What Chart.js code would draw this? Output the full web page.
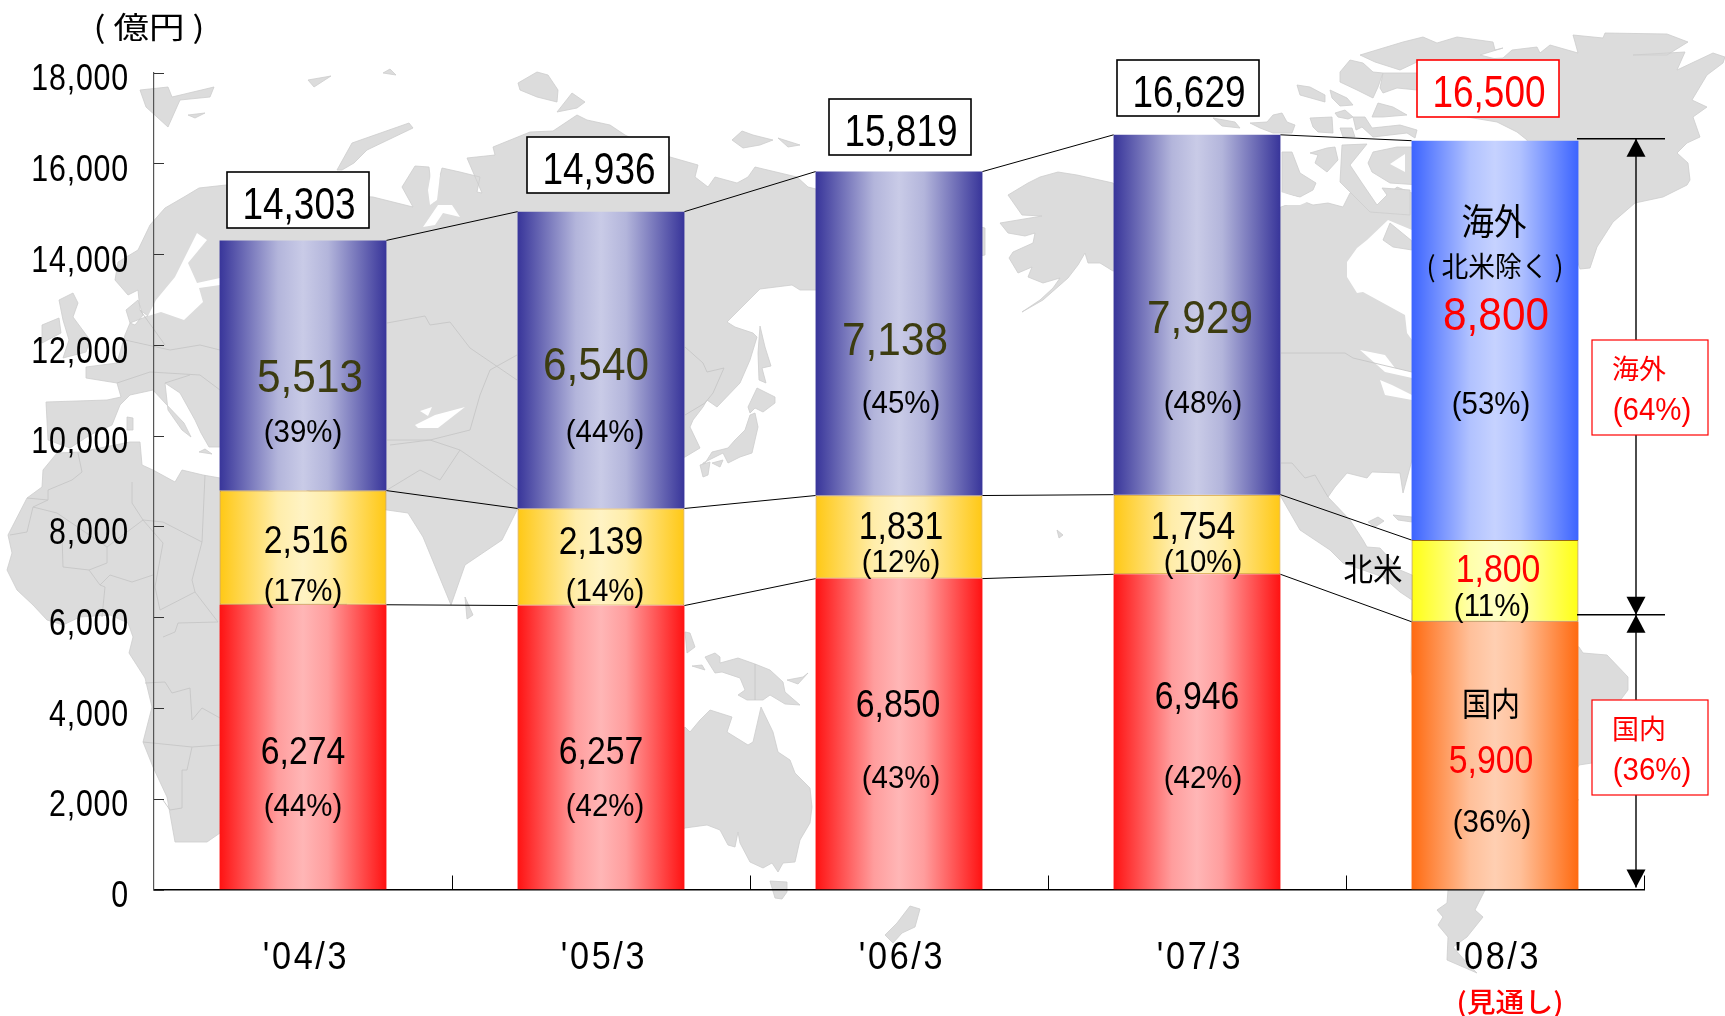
<!DOCTYPE html>
<html lang="ja">
<head>
<meta charset="utf-8">
<style>html,body{margin:0;padding:0;background:#fff}canvas{display:block}</style>
<script src="https://cdn.jsdelivr.net/npm/chart.js@4"></script>
</head>
<body>
<canvas id="c" width="1725" height="1016"></canvas>
<script>
// ---------- data ----------
const categories = ["'04/3", "'05/3", "'06/3", "'07/3", "'08/3"];
const domestic = [6274, 6257, 6850, 6946, 5900];
const northAmerica = [2516, 2139, 1831, 1754, 1800];
const overseas = [5513, 6540, 7138, 7929, 8800];
const totals = [14303, 14936, 15819, 16629, 16500];
const domesticPct = [44, 42, 43, 42, 36];
const northAmericaPct = [17, 14, 12, 10, 11];
const overseasPct = [39, 44, 45, 48, 53];
const yMax = 18000, yStep = 2000;

// ---------- style ----------
const NARROW = '"Liberation Sans",Arial,sans-serif';
const CJK = '"Noto Sans CJK JP","Liberation Sans",sans-serif';
const grads = {
  overseas: ['#38359A', '#C9CBE7'], overseas5: ['#3C64FF', '#C6D2FF'],
  na: ['#FFC814', '#FFF3C4'], na5: ['#FFFF14', '#FFFFC4'],
  dom: ['#FF1212', '#FFB6B6'], dom5: ['#FF6A10', '#FFCFB2']
};
const BAR_FRAC = 0.56;

function hex(c){return [1,3,5].map(i=>parseInt(c.substr(i,2),16));}
function mix(a,b,t){const A=hex(a),B=hex(b);return 'rgb('+A.map((v,i)=>Math.round(v+(B[i]-v)*t)).join(',')+')';}
function barFill(normal, last){
  return function(ctx){
    const pair = grads[ctx.dataIndex===4?last:normal];
    const chart = ctx.chart;
    if(!chart.chartArea || !chart.scales.x) return pair[0];
    const xs = chart.scales.x, cx = xs.getPixelForValue(ctx.dataIndex);
    const w = chart.chartArea.width/categories.length*BAR_FRAC;
    const g = chart.ctx.createLinearGradient(cx-w/2,0,cx+w/2,0);
    g.addColorStop(0,pair[0]);
    g.addColorStop(0.35,mix(pair[0],pair[1],0.85));
    g.addColorStop(0.5,pair[1]);
    g.addColorStop(0.65,mix(pair[0],pair[1],0.85));
    g.addColorStop(1,pair[0]);
    return g;
  };
}

// ---------- background world map (decoration only, page pixels) ----------
const MAP_LAND = [
 // Eurasia
 [226,185,260,190,373,197,413,207,402,187,415,166,429,167,433,203,442,168,460,172,480,177,477,192,482,193,467,158,495,155,493,147,530,132,553,131,577,115,587,120,610,125,625,135,670,157,698,165,695,177,708,187,715,177,737,183,748,177,755,167,797,177,808,187,860,200,985,228,985,255,900,270,817,290,800,290,792,285,760,289,727,322,735,327,753,333,757,337,750,360,740,383,717,407,707,400,703,407,693,420,690,427,700,448,685,457,600,480,518,508,502,540,465,565,451,605,423,537,408,513,387,510,330,500,260,470,220,447,209,447,201,433,195,420,180,393,165,383,168,410,182,430,191,437,184,423,165,403,153,390,130,395,120,405,112,425,90,435,70,448,48,440,46,402,107,400,121,397,117,383,86,378,86,367,117,363,125,335,130,323,135,325,143,315,138,300,126,310,130,323,148,316,140,310,138,290,128,295,115,280,118,262,138,250,150,225,165,208,184,197,199,188],
 // Africa
 [43,470,57,453,80,452,130,442,140,442,142,465,153,470,175,482,182,470,203,475,220,478,380,520,300,720,240,830,220,833,207,842,175,842,167,797,153,767,143,742,152,707,145,678,129,653,133,637,128,623,110,615,80,617,63,625,47,620,33,605,17,590,7,570,12,553,8,535,27,498,42,487],
 // Britain, Ireland
 [59,300,73,293,78,303,73,317,90,340,86,352,63,358,69,340,63,320],[42,325,59,318,61,333,42,343],
 // Arctic Europe / Asia islands
 [140,90,168,87,172,97,214,87,210,97,180,100,168,127,146,107],[188,115,205,113,195,118],[308,80,331,76,314,87],[383,73,390,69,396,75],
 [337,170,352,143,409,123,413,128,367,150,354,163,342,170],[518,83,537,72,548,75,558,90,557,102,537,97,520,90],[557,112,572,93,585,102,577,108],
 [732,140,742,131,753,135,773,140,760,145,743,148],[778,138,800,145,788,147],
 // Sri Lanka, Mediterranean islands
 [465,597,473,615,467,619],[127,417,133,418,133,430,127,430],[199,452,212,454,205,449],
 // Japan, Sakhalin
 [760,326,765,347,771,366,762,368,766,383,759,380,758,353],[757,388,767,393,775,397,775,403,763,412,755,408,750,413,748,407],
 [755,413,758,427,752,453,740,457,728,463,723,453,703,463,702,468,712,452,728,448,735,440,745,430,750,415],[700,465,710,462,708,475,703,477],[712,463,723,460,720,467],
 // Alaska + Canada + USA + Mexico
 [1113,183,1077,175,1058,172,1040,177,1028,183,1008,195,1022,215,1042,216,1000,223,1008,233,1025,236,1035,233,1033,243,1013,252,1009,258,1018,273,1032,267,1028,277,1043,283,1060,278,1053,288,1040,300,1022,312,1043,300,1068,278,1078,265,1085,253,1088,263,1100,263,1113,271,1200,250,1281,207,1300,200,1313,205,1328,203,1343,207,1350,193,1358,187,1368,193,1377,207,1388,195,1397,187,1412,193,1500,300,1440,420,1412,460,1403,493,1400,473,1372,472,1367,478,1347,473,1335,487,1328,497,1350,520,1363,540,1367,547,1380,548,1400,570,1412,575,1440,610,1412,600,1400,592,1383,577,1343,563,1330,550,1300,530,1281,497,1230,450,1200,300],
 [1222,172,1233,178,1222,188],
 // Arctic Canada
 [1342,145,1367,144,1350,165,1362,183,1377,205,1387,195,1382,188,1410,190,1410,215,1370,212,1340,182],
 [1360,55,1403,42,1423,37,1437,43,1457,37,1493,42,1495,50,1503,48,1480,55,1500,60,1417,62,1400,70,1375,62],
 [1340,72,1350,60,1363,63,1373,72,1383,73,1378,87,1373,98,1357,90,1340,82],[1383,73,1417,73,1417,90,1397,88,1383,93,1380,88],
 [1297,85,1310,87,1325,95,1325,102,1300,95],[1330,90,1347,98,1353,105,1340,106,1332,98],[1335,113,1345,110,1353,117,1348,119,1338,117],
 [1310,118,1332,117,1333,133,1318,132,1313,127],[1353,117,1365,117,1372,128,1400,125,1417,130,1415,138,1407,133,1373,137,1362,127,1356,130],
 [1378,103,1393,107,1407,115,1383,117,1372,117],[1340,128,1352,128,1355,137,1343,137],
 [1250,123,1267,122,1273,115,1282,113,1287,122,1295,125,1292,133,1273,133,1260,128],[1213,118,1235,122,1240,128,1222,126],
 [1282,152,1292,152,1300,173,1316,183,1313,190,1300,197,1282,193],[1310,153,1327,148,1335,147,1338,160,1327,172,1315,163,1318,155],
 [1368,163,1373,152,1397,147,1412,147,1420,185,1390,183,1372,172],
 // Greenland
 [1503,58,1512,50,1537,47,1540,53,1550,45,1578,53,1575,42,1573,35,1603,38,1605,33,1667,34,1688,42,1667,55,1633,55,1685,52,1677,70,1713,53,1725,57,1723,63,1707,75,1692,100,1707,107,1693,117,1700,137,1687,143,1677,153,1688,163,1690,180,1687,185,1663,197,1635,203,1613,222,1597,247,1590,268,1580,269,1570,240,1527,140,1517,132,1497,122,1467,117,1450,80,1470,60],
 // South America
 [1412,600,1411,655,1411,672,1420,700,1448,890,1447,903,1437,910,1443,917,1438,925,1448,937,1447,960,1477,973,1467,963,1453,947,1467,937,1483,917,1475,910,1485,890,1560,800,1579,765,1592,763,1613,710,1628,690,1628,677,1607,655,1583,653,1579,647,1500,620],
 [1368,522,1378,517,1384,521,1375,527],[1393,515,1412,517,1412,522,1398,520],
 // Oceania
 [660,760,685,727,690,732,700,720,710,710,732,717,727,732,748,745,753,742,761,707,773,732,778,752,790,760,795,773,800,778,810,788,812,807,810,823,800,840,795,862,783,863,778,872,772,863,763,868,750,862,740,843,738,832,735,847,728,845,720,830,707,825,685,828,660,840],
 [770,881,787,882,787,892,782,899,775,898],[910,906,920,909,915,927,902,933,893,943,885,935,897,923],
 [705,657,715,653,720,657,720,663,738,658,755,664,770,670,783,682,785,692,800,705,785,704,770,695,763,700,747,700,738,695,745,690,740,678,722,672,715,673,710,665],
 [685,632,690,633,695,647,687,653],[692,666,702,665,705,670],[787,680,803,677,808,673,798,684],
 [1057,530,1063,535,1059,538]
];
const MAP_WATER = [
 [197,233,207,240,188,263,197,283,220,278,220,285,199,288,203,302,184,320,161,312,148,316,156,300,175,277],
 [423,227,438,205,452,205,460,217,443,213,435,225],[432,168,440,175,437,200,430,205,428,190],
 [415,425,435,415,465,407,438,428,418,428],[420,411,432,407,428,416],
 [1347,262,1357,248,1367,240,1388,220,1412,230,1412,340,1407,333,1405,315,1363,292,1357,293,1347,277],
 [1360,350,1385,355,1395,368,1412,372,1412,378,1385,372],[1380,380,1385,395,1412,400,1412,395,1392,385],
 [1390,164,1405,154,1405,172],[1281,192,1300,198,1312,200,1300,205,1281,205],
 [1520,180,1545,180,1530,210]
];
const MAP_ISLES_OVER_WATER = [[1383,240,1390,223,1412,241,1412,250,1393,247]];
const MAP_BORDERS = [
 [48,490,72,480,82,472,78,453],[48,490,48,500,27,498],[10,535,27,532,33,507,48,500],[132,482,132,503,143,520,163,522,202,542,205,475],
 [143,520,107,547,57,513,33,507],[107,547,107,563,89,570,63,567,62,535],[89,570,100,585,110,575,132,582,153,575],[100,585,105,587,102,617],
 [160,610,195,592,192,580,202,542],[160,610,155,587,163,543,143,520],[163,637,175,632,178,623,218,622,195,592],
 [145,683,165,682,172,693,190,688,192,720,202,708,220,718],[143,742,192,747,220,745],[192,747,187,770,182,770,182,808,170,810,163,800],
 [1281,353,1345,353,1353,358,1412,372],[387,323,425,316,430,325,450,322,470,348,517,380],[517,355,490,370,480,395,470,430,430,440,390,445],
 [685,347,703,363,707,372,724,368,713,393,705,403,685,415],[387,490,420,470,440,480,460,450,518,490],[387,440,430,440,460,450],
 [125,340,170,350,200,345,220,350],[117,383,150,372,200,375,220,390],[165,383,190,375],[140,310,165,345],
 [1281,463,1292,463,1305,478,1315,475,1328,497],[755,664,755,700],
 [1480,700,1579,720],[1450,760,1579,800]
];
function polyPath(ctx,pts){ctx.beginPath();ctx.moveTo(pts[0],pts[1]);for(let i=2;i<pts.length;i+=2)ctx.lineTo(pts[i],pts[i+1]);}
const mapPlugin = {id:'worldMap',beforeDraw(chart){
  const c=chart.ctx;c.save();c.fillStyle='#fff';c.fillRect(0,0,chart.width,chart.height);
  const land=(list)=>{c.fillStyle='#DCDCDC';c.strokeStyle='#CDCDCD';c.lineWidth=0.8;c.lineJoin='round';
    list.forEach(p=>{polyPath(c,p);c.closePath();c.fill();c.stroke();});};
  land(MAP_LAND);
  c.fillStyle='#fff';MAP_WATER.forEach(p=>{polyPath(c,p);c.closePath();c.fill();});
  land(MAP_ISLES_OVER_WATER);
  c.strokeStyle='#C6C6C6';c.lineWidth=0.9;MAP_BORDERS.forEach(p=>{polyPath(c,p);c.stroke();});
  c.restore();
}};

// ---------- helpers ----------
function cjk(c,s,x,y,font,color,w){
  c.save();c.font=font;c.fillStyle=color;c.textAlign='center';c.textBaseline='middle';c.translate(x,y);
  c.scale(w/c.measureText(s).width,1);c.fillText(s,0,0);c.restore();
}
function latin(c,s,x,y,size,color,sx,align){
  c.save();c.font=size+'px '+NARROW;c.fillStyle=color;c.textAlign=align||'center';c.textBaseline='middle';c.translate(x,y+3);
  c.scale(sx,1);c.fillText(s,0,0);c.restore();
}
const fmt=v=>v.toLocaleString('en-US');
const pct=v=>'('+v+'%)';

// label layout: [dx from bar centre, y on page]
const POS_OVERSEAS=[[7,376],[-5,364],[-4,339],[3,317],[1,314]];
const POS_OVERSEAS_PCT=[[0,430],[4,430],[2,401],[6,401],[-4,402]];
const POS_NA=[[3,540],[0,541],[2,526],[-4,526],[3,569]];
const POS_NA_PCT=[[0,590],[4,590],[2,561],[6,561],[-3,605]];
const POS_DOM=[[0,751],[0,751],[-1,704],[0,696],[-4,760]];
const POS_DOM_PCT=[[0,805],[4,805],[2,777],[6,777],[-3,821]];
const TOTAL_BOX=[[227,172],[527,137],[829,99],[1117,60],[1417,60]];
const TOTAL_BOX_SIZE=[142,56];

const overlay={id:'overlay',
 afterDatasetsDraw(chart){
  const c=chart.ctx,xs=chart.scales.x,ys=chart.scales.y;
  const w=chart.chartArea.width/categories.length*BAR_FRAC;
  const bx=i=>xs.getPixelForValue(i);
  // connecting lines
  c.save();c.strokeStyle='#000';c.lineWidth=1;
  const cum=[domestic,domestic.map((v,i)=>v+northAmerica[i]),totals];
  cum.forEach(arr=>{for(let i=0;i<arr.length-1;i++){c.beginPath();c.moveTo(bx(i)+w/2,ys.getPixelForValue(arr[i]));c.lineTo(bx(i+1)-w/2,ys.getPixelForValue(arr[i+1]));c.stroke();}});
  // inward ticks
  c.strokeStyle='#333';
  ys.ticks.forEach((t,i)=>{const y=Math.round(ys.getPixelForTick(i))+0.5;c.beginPath();c.moveTo(chart.chartArea.left,y);c.lineTo(chart.chartArea.left+10,y);c.stroke();});
  c.strokeStyle='#000';
  for(let i=0;i<=categories.length;i++){const x=Math.round(chart.chartArea.left+i*chart.chartArea.width/categories.length)+0.5;
    if(i>0){c.beginPath();c.moveTo(x,chart.chartArea.bottom);c.lineTo(x,chart.chartArea.bottom-14);c.stroke();}}
  c.restore();
  // axis labels
  ys.ticks.forEach((t,i)=>{
    c.save();c.letterSpacing='1px';
    latin(c,fmt(t.value),129,ys.getPixelForTick(i)+4.5,37,'#000',0.82,'right');
    c.restore();
  });
  xs.ticks.forEach((t,i)=>{
    c.save();c.letterSpacing='3px';
    latin(c,categories[t.value],xs.getPixelForTick(i)+3,956,38,'#000',0.9);
    c.restore();
  });
  // value and share labels
  categories.forEach((_,i)=>{
    const cx=bx(i),last=i===4;
    const oc=last?'#FF0000':'#3C3C10';
    latin(c,fmt(overseas[i]),cx+POS_OVERSEAS[i][0],POS_OVERSEAS[i][1],47,oc,0.9);
    latin(c,pct(overseasPct[i]),cx+POS_OVERSEAS_PCT[i][0],POS_OVERSEAS_PCT[i][1],32,'#000',0.92);
    latin(c,fmt(northAmerica[i]),cx+POS_NA[i][0],POS_NA[i][1],38,last?'#FF0000':'#000',0.89);
    latin(c,pct(northAmericaPct[i]),cx+POS_NA_PCT[i][0],POS_NA_PCT[i][1]-1,32,'#000',0.92);
    latin(c,fmt(domestic[i]),cx+POS_DOM[i][0],POS_DOM[i][1],38,last?'#FF0000':'#000',0.89);
    latin(c,pct(domesticPct[i]),cx+POS_DOM_PCT[i][0],POS_DOM_PCT[i][1]-1,32,'#000',0.92);
    const b=TOTAL_BOX[i],col=last?'#FF0000':'#000';
    c.save();c.fillStyle='#fff';c.strokeStyle=col;c.lineWidth=1.6;c.fillRect(b[0],b[1],TOTAL_BOX_SIZE[0],TOTAL_BOX_SIZE[1]+(last?1:0));c.strokeRect(b[0],b[1],TOTAL_BOX_SIZE[0],TOTAL_BOX_SIZE[1]+(last?1:0));c.restore();
    latin(c,fmt(totals[i]),b[0]+TOTAL_BOX_SIZE[0]/2+1,b[1]+31.5,44,col,0.84);
  });
  // forecast-bar captions
  cjk(c,'海外',1494,221,'36px '+CJK,'#000',65);
  cjk(c,'( 北米除く )',1495,266,'28px '+CJK,'#000',137);
  cjk(c,'北米',1373,569,'32px '+CJK,'#000',59);
  cjk(c,'国内',1491,703,'33px '+CJK,'#000',58);
  cjk(c,'( 億円 )',149,27,'30px '+CJK,'#000',111);
  cjk(c,'(見通し)',1510,1002,'500 27px '+CJK,'#FF0000',107);
  // range arrows
  const ax=1636,yT=ys.getPixelForValue(totals[4])-2,yM=ys.getPixelForValue(domestic[4])-7,yB=ys.getPixelForValue(0)-2;
  c.save();c.strokeStyle='#000';c.fillStyle='#000';c.lineWidth=1.4;
  [[1577,1665,yT],[1577,1665,yM]].forEach(l=>{c.beginPath();c.moveTo(l[0],l[2]);c.lineTo(l[1],l[2]);c.stroke();});
  c.beginPath();c.moveTo(ax,yT);c.lineTo(ax,yB);c.stroke();
  const head=(tip,dir)=>{c.beginPath();c.moveTo(ax,tip);c.lineTo(ax-9.5,tip+dir*18);c.lineTo(ax+9.5,tip+dir*18);c.closePath();c.fill();};
  head(yT,1);head(yM,-1);head(yM,1);head(yB,-1);c.restore();
  // share boxes
  [[340,'海外',overseasPct[4]+northAmericaPct[4]],[700,'国内',domesticPct[4]]].forEach(b=>{
    c.save();c.fillStyle='#fff';c.strokeStyle='#FF0000';c.lineWidth=1.2;c.fillRect(1592,b[0],116,95);c.strokeRect(1592,b[0],116,95);c.restore();
    cjk(c,b[1],1639,b[0]+29,'27px '+CJK,'#FF0000',54);
    latin(c,pct(b[2]),1652,b[0]+68,32,'#FF0000',0.92);
  });
 }};

const naEdge=ctx=>ctx.dataIndex===4?'#9A6A10':'#C8860E';
new Chart(document.getElementById('c'),{
  type:'bar',
  plugins:[mapPlugin,overlay],
  data:{labels:categories,datasets:[
    {label:'国内',data:domestic,backgroundColor:barFill('dom','dom5')},
    {label:'北米',data:northAmerica,backgroundColor:barFill('na','na5'),borderColor:naEdge,borderWidth:1,borderSkipped:false},
    {label:'海外',data:overseas,backgroundColor:barFill('overseas','overseas5')}
  ]},
  options:{
    responsive:false,animation:false,
    layout:{padding:{top:72.6,right:81,left:0,bottom:0}},
    plugins:{legend:{display:false},tooltip:{enabled:false},title:{display:false}},
    datasets:{bar:{categoryPercentage:1,barPercentage:BAR_FRAC}},
    scales:{
      x:{stacked:true,
         grid:{display:false},border:{display:true,color:'#000',width:1.6},
         ticks:{display:false},
         afterFit(s){s.height=126.5;}},
      y:{stacked:true,min:0,max:yMax,
         grid:{display:false},border:{display:true,color:'#555',width:1.2},
         ticks:{display:false,stepSize:yStep},
         afterFit(s){s.width=154;}}
    }
  }
});
</script>
</body>
</html>
